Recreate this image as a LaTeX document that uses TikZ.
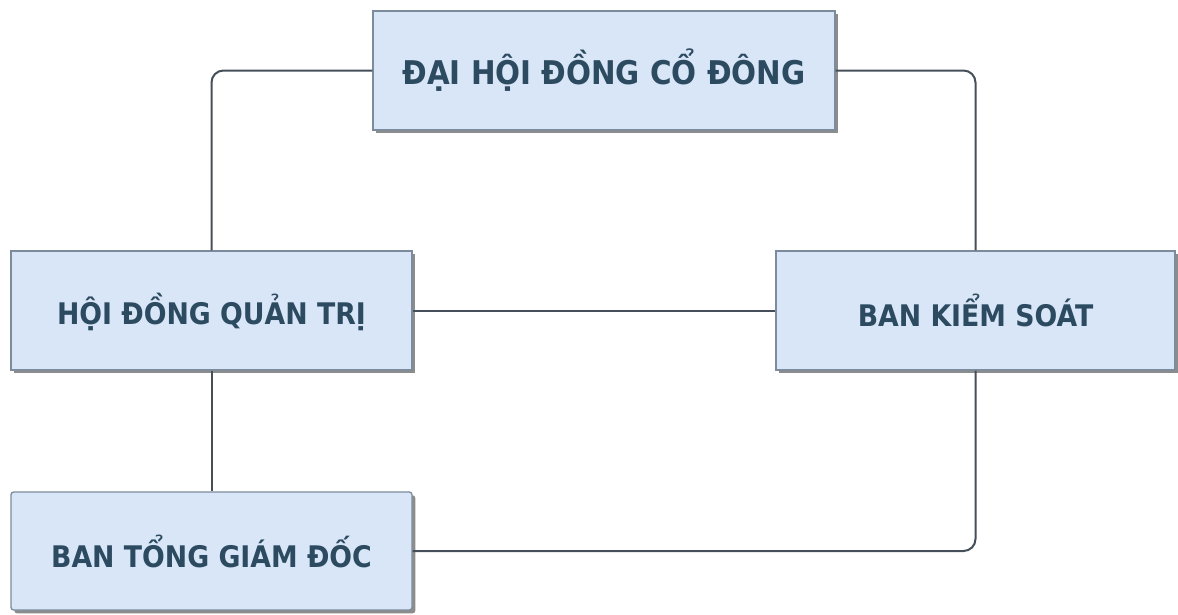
\documentclass[tikz,border=0pt]{standalone}
\usepackage{fontspec}
\setmainfont{DejaVu Sans Condensed}
\usetikzlibrary{shadows}
\definecolor{boxfill}{HTML}{D8E6F8}
\definecolor{boxline}{HTML}{7D8C9C}
\definecolor{txt}{HTML}{2D4B60}
\definecolor{conn}{HTML}{454F59}
\begin{document}
\begin{tikzpicture}[x=0.75pt,y=-0.75pt,
  orgbox/.style={draw=boxline, line width=1pt, fill=boxfill, text=txt,
    font=\fontsize{22.3}{27}\selectfont\bfseries, inner sep=0pt,
    drop shadow={shadow xshift=2.5pt, shadow yshift=-2.5pt, fill=black!45, opacity=1}},
  bigtext/.style={font=\fontsize{24.5}{29}\selectfont\bfseries},
  link/.style={draw=conn, line width=1.5pt, rounded corners=9pt}]
\useasboundingbox (0,0) rectangle (1178,614);
\node[orgbox, bigtext, minimum width=346.5pt, minimum height=89.25pt] (dhcd) at (604,70.5) {ĐẠI HỘI ĐỒNG CỔ ĐÔNG};
\node[orgbox, minimum width=300.75pt, minimum height=89.25pt, text depth=2pt] (hdqt) at (211.5,310.5) {HỘI ĐỒNG QUẢN TRỊ};
\node[orgbox, minimum width=299.25pt, minimum height=89.25pt] (bks) at (975.5,310.5) {BAN KIỂM SOÁT};
\node[orgbox, rounded corners=2pt, minimum width=300.75pt, minimum height=88.5pt] (btgd) at (211.5,551) {BAN TỔNG GIÁM ĐỐC};
\draw[link] (dhcd.west) -| (hdqt.north);
\draw[link] (dhcd.east) -| (bks.north);
\draw[link] (hdqt.east) -- (bks.west);
\draw[link] (hdqt.south) -- (btgd.north);
\draw[link] (bks.south) |- (btgd.east);
\end{tikzpicture}
\end{document}
